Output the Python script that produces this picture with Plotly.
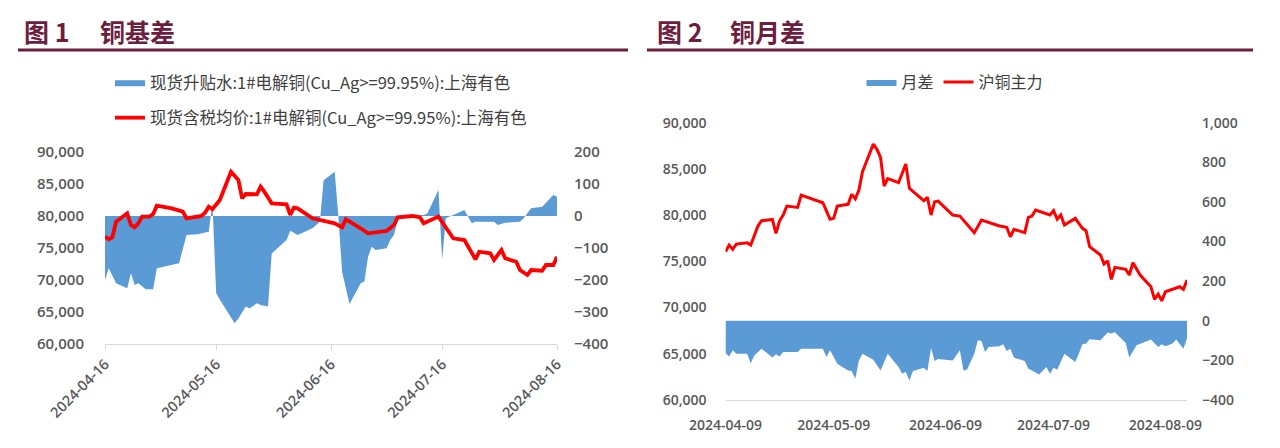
import plotly.graph_objects as go

# ---------------- data ----------------
# Chart 1: 铜基差
basis_dates = ["2024-04-16","2024-04-17","2024-04-19","2024-04-22","2024-04-23","2024-04-24","2024-04-25","2024-04-27",
               "2024-04-29","2024-04-30","2024-05-06","2024-05-08","2024-05-11","2024-05-14","2024-05-15","2024-05-16",
               "2024-05-17","2024-05-21","2024-05-22","2024-05-24","2024-05-25","2024-05-27","2024-05-28","2024-05-30",
               "2024-05-31","2024-06-04","2024-06-05","2024-06-07","2024-06-11","2024-06-13","2024-06-14","2024-06-17",
               "2024-06-18","2024-06-19","2024-06-21","2024-06-24","2024-06-25","2024-06-26","2024-06-27","2024-06-28",
               "2024-07-01","2024-07-02","2024-07-03","2024-07-04","2024-07-05","2024-07-11","2024-07-12","2024-07-15",
               "2024-07-16","2024-07-17","2024-07-22","2024-07-24","2024-07-25","2024-07-30","2024-07-31","2024-08-02",
               "2024-08-06","2024-08-07","2024-08-09","2024-08-12","2024-08-15","2024-08-16"]
basis_values = [-200,-163,-210,-226,-179,-216,-210,-229,-229,-163,-148,-59,-57,-49,40,-241,
                -262,-335,-320,-283,-289,-273,-278,-283,-117,-75,-46,-59,-38,-18,112,138,
                -2,-175,-275,-210,-205,-127,-96,-106,-101,-75,-59,-12,0,3,8,81,
                -137,-7,19,-23,-18,-18,-28,-21,-18,-7,24,29,66,60]

spot_dates = ["2024-04-16","2024-04-17","2024-04-18","2024-04-19","2024-04-22","2024-04-23","2024-04-24","2024-04-25",
              "2024-04-26","2024-04-28","2024-04-29","2024-04-30","2024-05-04","2024-05-07","2024-05-08","2024-05-10",
              "2024-05-12","2024-05-13","2024-05-14","2024-05-15","2024-05-17","2024-05-20","2024-05-22","2024-05-23",
              "2024-05-24","2024-05-27","2024-05-28","2024-05-29","2024-05-31","2024-06-04","2024-06-05","2024-06-06",
              "2024-06-07","2024-06-11","2024-06-13","2024-06-17","2024-06-19","2024-06-20","2024-06-24","2024-06-26",
              "2024-07-01","2024-07-03","2024-07-04","2024-07-08","2024-07-10","2024-07-11","2024-07-15","2024-07-17",
              "2024-07-19","2024-07-22","2024-07-25","2024-07-26","2024-07-29","2024-07-30","2024-08-01","2024-08-02",
              "2024-08-05","2024-08-06","2024-08-08","2024-08-09","2024-08-12","2024-08-13","2024-08-15","2024-08-16"]
spot_values = [76770,76360,76670,79110,80420,78600,78230,78860,79900,79900,80310,81610,81200,80670,79640,79800,
               80000,80520,81460,81050,82500,86920,85630,82770,83440,83390,84580,83800,81980,81830,80160,81300,
               81200,79640,79380,78860,78230,79480,78080,77300,77660,78600,79800,80000,79800,78860,79900,78330,
               76520,76250,73230,74420,74170,73130,74690,73390,72860,71560,70780,71560,71450,72340,72340,73640]

ticks1 = ["2024-04-16","2024-05-16","2024-06-16","2024-07-16","2024-08-16"]

# Chart 2: 铜月差
spread_dates = ["2024-04-09","2024-04-10","2024-04-11","2024-04-12","2024-04-15","2024-04-16","2024-04-17","2024-04-19",
                "2024-04-22","2024-04-23","2024-04-24","2024-04-25","2024-04-29","2024-04-30","2024-05-06","2024-05-07",
                "2024-05-08","2024-05-10","2024-05-13","2024-05-14","2024-05-15","2024-05-16","2024-05-17","2024-05-20",
                "2024-05-22","2024-05-24","2024-05-27","2024-05-28","2024-05-29","2024-05-30","2024-05-31","2024-06-03",
                "2024-06-04","2024-06-05","2024-06-06","2024-06-07","2024-06-11","2024-06-13","2024-06-14","2024-06-15",
                "2024-06-17","2024-06-18","2024-06-19","2024-06-20","2024-06-21","2024-06-24","2024-06-25","2024-06-26",
                "2024-06-27","2024-06-28","2024-07-01","2024-07-02","2024-07-03","2024-07-05","2024-07-07","2024-07-08",
                "2024-07-09","2024-07-10","2024-07-12","2024-07-15","2024-07-16","2024-07-17","2024-07-18","2024-07-19",
                "2024-07-22","2024-07-24","2024-07-25","2024-07-26","2024-07-29","2024-07-30","2024-08-01","2024-08-05",
                "2024-08-07","2024-08-08","2024-08-09","2024-08-11","2024-08-12","2024-08-14","2024-08-15"]
spread_values = [-163,-180,-149,-166,-166,-214,-175,-141,-186,-169,-180,-158,-158,-141,-141,-183,
                 -149,-217,-251,-254,-293,-200,-166,-197,-251,-166,-234,-268,-259,-302,-254,-237,
                 -254,-137,-203,-193,-200,-149,-251,-247,-166,-98,-102,-158,-132,-129,-119,-153,
                 -141,-186,-203,-242,-251,-271,-234,-268,-237,-247,-166,-208,-166,-119,-115,-93,
                 -98,-59,-64,-58,-112,-186,-124,-95,-132,-119,-129,-115,-95,-141,-90]

main_dates = ["2024-04-09","2024-04-10","2024-04-11","2024-04-12","2024-04-15","2024-04-16","2024-04-18","2024-04-19",
              "2024-04-22","2024-04-23","2024-04-24","2024-04-25","2024-04-26","2024-04-29","2024-04-30","2024-05-06",
              "2024-05-08","2024-05-09","2024-05-10","2024-05-13","2024-05-14","2024-05-15","2024-05-16","2024-05-17",
              "2024-05-20","2024-05-21","2024-05-22","2024-05-23","2024-05-24","2024-05-27","2024-05-29","2024-05-30",
              "2024-06-03","2024-06-04","2024-06-05","2024-06-06","2024-06-07","2024-06-11","2024-06-13","2024-06-17",
              "2024-06-19","2024-06-24","2024-06-26","2024-06-27","2024-06-28","2024-07-01","2024-07-02","2024-07-03",
              "2024-07-04","2024-07-08","2024-07-09","2024-07-10","2024-07-11","2024-07-12","2024-07-15","2024-07-17",
              "2024-07-18","2024-07-19","2024-07-22","2024-07-23","2024-07-24","2024-07-25","2024-07-26","2024-07-29",
              "2024-07-30","2024-07-31","2024-08-02","2024-08-05","2024-08-06","2024-08-07","2024-08-08","2024-08-09",
              "2024-08-13","2024-08-14","2024-08-15"]
main_values = [76040,76760,76300,76870,77010,76760,78820,79390,79540,78030,79390,80010,80980,80840,82170,81340,
               79550,79650,80980,81170,82250,81770,82720,84700,87690,87120,86250,83150,83940,83510,85530,82900,
               81560,81930,80010,81450,81520,80010,79900,78100,79470,78820,78680,77660,78460,78100,79760,79900,
               80550,80010,80480,79550,80010,78930,79650,78570,78310,76580,75680,74710,75060,73050,74350,74130,
               73520,74850,73520,72250,70890,71460,70730,71710,72250,71970,72980]

ticks2 = ["2024-04-09","2024-05-09","2024-06-09","2024-07-09","2024-08-09"]

name_basis = "现货升贴水:1#电解铜(Cu_Ag>=99.95%):上海有色"
name_spot = "现货含税均价:1#电解铜(Cu_Ag>=99.95%):上海有色"
name_spread = "月差"
name_main = "沪铜主力"

# ---------------- styling ----------------
# the page body has an 8px margin, so the figure occupies window pixels 8..1280 x 8..448
OFF = 8
W, H = 1280 - OFF, 448 - OFF
def px(x): return (x - OFF) / W
def py(y): return 1 - (y - OFF) / H

BLUE = "#5B9BD5"
RED = "#FF0000"
GRAY = "#595959"
MAROON = "#6B1E3E"
AXIS = "#D9D9D9"
tickfont = dict(family="Open Sans", size=14, color=GRAY, weight=600)

fig = go.Figure()
fig.add_trace(go.Scatter(x=basis_dates, y=basis_values, name=name_basis, mode="lines",
                         fill="tozeroy", fillcolor=BLUE, line=dict(width=0, color=BLUE),
                         xaxis="x", yaxis="y", legend="legend", legendgroup="a"))
fig.add_trace(go.Scatter(x=spot_dates, y=spot_values, name=name_spot, mode="lines",
                         line=dict(width=3.8, color=RED),
                         xaxis="x", yaxis="y2", legend="legend", legendgroup="b"))
fig.add_trace(go.Scatter(x=spread_dates, y=spread_values, name=name_spread, mode="lines",
                         fill="tozeroy", fillcolor=BLUE, line=dict(width=0, color=BLUE),
                         xaxis="x2", yaxis="y3", legend="legend2"))
fig.add_trace(go.Scatter(x=main_dates, y=main_values, name=name_main, mode="lines",
                         line=dict(width=3, color=RED),
                         xaxis="x2", yaxis="y4", legend="legend2"))

yax_common = dict(showgrid=False, zeroline=False, showline=False, ticks="", tickformat=",d",
                  tickfont=tickfont, automargin=False)

fig.update_layout(
    template=None,
    width=W, height=H, margin=dict(l=0, r=0, t=0, b=0, pad=0, autoexpand=False),
    paper_bgcolor="white", plot_bgcolor="white", showlegend=True,
    xaxis=dict(domain=[px(105), px(557)], type="date", range=["2024-04-16", "2024-08-16"],
               tickvals=ticks1, ticktext=ticks1, tickangle=-45, showgrid=False, zeroline=False,
               showline=True, linecolor=AXIS, linewidth=1, ticks="outside", ticklen=5, tickcolor=AXIS,
               tickfont=dict(tickfont, size=14.5), anchor="y", automargin=False),
    yaxis=dict(domain=[py(344), py(152)], range=[-400, 200], dtick=100, side="right", anchor="x",
               ticklabelstandoff=16, **{**yax_common, "tickfont": dict(tickfont, size=15)}),
    yaxis2=dict(range=[60000, 90000], dtick=5000, side="left", overlaying="y", anchor="x",
                ticklabelstandoff=20, **{**yax_common, "tickfont": dict(tickfont, size=15)}),
    xaxis2=dict(domain=[px(725.5), px(1187)], type="date", range=["2024-04-09", "2024-08-15"],
                tickvals=ticks2, ticktext=ticks2, tickangle=0, showgrid=False, zeroline=False,
                showline=True, linecolor=AXIS, linewidth=1, ticks="", tickfont=tickfont,
                ticklabelstandoff=12, anchor="y3", automargin=False),
    yaxis3=dict(domain=[py(400), py(122.7)], range=[-400, 1000], dtick=200, side="right", anchor="x2",
                ticklabelstandoff=14, **yax_common),
    yaxis4=dict(range=[60000, 90000], dtick=5000, side="left", overlaying="y3", anchor="x2",
                ticklabelstandoff=18, **yax_common),
    legend=dict(x=px(110), y=py(65), xanchor="left", yanchor="top", orientation="v",
                font=dict(family="Noto Sans CJK SC", size=16.5, color="#404040"),
                bgcolor="rgba(0,0,0,0)", tracegroupgap=11, itemwidth=30, traceorder="grouped"),
    legend2=dict(x=px(955), y=py(82), xanchor="center", yanchor="middle", orientation="h",
                 font=dict(family="Noto Sans CJK SC", size=16, color="#404040"),
                 bgcolor="rgba(0,0,0,0)", itemwidth=30),
)

title_font = dict(family="Noto Sans CJK SC", size=25, color=MAROON, weight="bold")
for txt, x in [("图 1", 22), ("铜基差", 98), ("图 2", 655), ("铜月差", 728)]:
    fig.add_annotation(text=txt, x=px(x), y=py(31), xref="paper", yref="paper",
                       xanchor="left", yanchor="middle", showarrow=False, font=title_font)

for x0, x1 in [(18, 628), (647, 1253)]:
    fig.add_shape(type="line", xref="paper", yref="paper", x0=px(x0), x1=px(x1),
                  y0=py(50), y1=py(50), line=dict(color=MAROON, width=3))

fig.write_html("out.html")
